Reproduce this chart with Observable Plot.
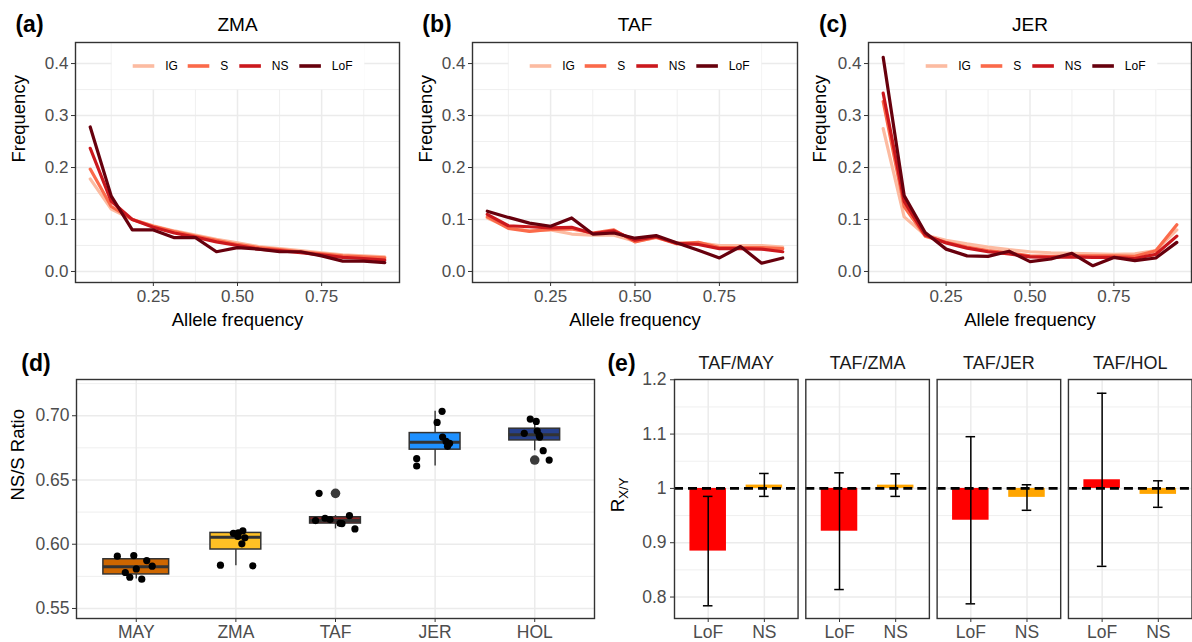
<!DOCTYPE html>
<html>
<head>
<meta charset="utf-8">
<script src="https://cdn.jsdelivr.net/npm/d3@7"></script>
<script src="https://cdn.jsdelivr.net/npm/@observablehq/plot@0.6"></script>
<style>
  html, body { margin: 0; padding: 0; background: #ffffff; }
  #root { position: relative; width: 1192px; height: 642px; overflow: hidden; background: #ffffff;
          font-family: "Liberation Sans", Arial, Helvetica, sans-serif; }
  .pane { position: absolute; }
</style>
</head>
<body>
<div id="root"></div>
<script>
// ---------------- DATA ----------------
// (a)-(c): site frequency spectra
const afBins = [0.0625, 0.125, 0.1875, 0.25, 0.3125, 0.375, 0.4375, 0.5, 0.5625, 0.625, 0.6875, 0.75, 0.8125, 0.875, 0.9375];
const sfsTypes = ["IG", "S", "NS", "LoF"];
const sfsColors = ["#FCBBA1", "#FB6A4A", "#CB181D", "#67000D"];

const zmaIG  = [0.178, 0.120, 0.100, 0.088, 0.078, 0.070, 0.062, 0.055, 0.048, 0.044, 0.040, 0.036, 0.032, 0.030, 0.028];
const zmaS   = [0.197, 0.125, 0.100, 0.087, 0.077, 0.068, 0.060, 0.052, 0.046, 0.042, 0.038, 0.034, 0.030, 0.028, 0.026];
const zmaNS  = [0.237, 0.135, 0.100, 0.085, 0.074, 0.066, 0.057, 0.050, 0.043, 0.040, 0.036, 0.032, 0.027, 0.025, 0.022];
const zmaLoF = [0.278, 0.145, 0.080, 0.080, 0.065, 0.065, 0.038, 0.046, 0.043, 0.038, 0.038, 0.030, 0.020, 0.020, 0.017];

const tafIG  = [0.103, 0.085, 0.078, 0.080, 0.072, 0.070, 0.070, 0.058, 0.065, 0.055, 0.055, 0.050, 0.050, 0.050, 0.047];
const tafS   = [0.105, 0.083, 0.077, 0.081, 0.082, 0.074, 0.080, 0.057, 0.066, 0.053, 0.056, 0.046, 0.046, 0.046, 0.044];
const tafNS  = [0.110, 0.088, 0.086, 0.084, 0.085, 0.073, 0.078, 0.060, 0.067, 0.054, 0.052, 0.044, 0.044, 0.043, 0.038];
const tafLoF = [0.116, 0.104, 0.093, 0.087, 0.103, 0.072, 0.074, 0.064, 0.069, 0.055, 0.041, 0.026, 0.048, 0.016, 0.026];

const jerIG  = [0.275, 0.105, 0.070, 0.060, 0.053, 0.047, 0.042, 0.038, 0.036, 0.035, 0.034, 0.033, 0.034, 0.040, 0.080];
const jerS   = [0.327, 0.125, 0.068, 0.056, 0.047, 0.040, 0.036, 0.030, 0.029, 0.030, 0.030, 0.030, 0.029, 0.040, 0.090];
const jerNS  = [0.343, 0.135, 0.070, 0.055, 0.045, 0.038, 0.034, 0.028, 0.027, 0.028, 0.027, 0.027, 0.025, 0.033, 0.068];
const jerLoF = [0.412, 0.146, 0.075, 0.043, 0.030, 0.029, 0.039, 0.019, 0.024, 0.035, 0.011, 0.027, 0.021, 0.026, 0.056];

const afMajor = [0.25, 0.5, 0.75];
const afMinor = [0.125, 0.375, 0.625, 0.875];
const freqMajor = [0, 0.1, 0.2, 0.3, 0.4];
const freqMinor = [0.05, 0.15, 0.25, 0.35];

// (d): NS/S ratio per population
const pops = ["MAY", "ZMA", "TAF", "JER", "HOL"];
const popColors = ["#CD6600", "#FFC125", "#8B2323", "#1E90FF", "#27408B"];
const boxLow    = [0.5729, 0.5832, 0.6119, 0.6609, 0.6728];
const boxQ1     = [0.5765, 0.5959, 0.6161, 0.6736, 0.6808];
const boxMedian = [0.5824, 0.6054, 0.6184, 0.6793, 0.6852];
const boxQ3     = [0.5883, 0.6088, 0.6210, 0.6865, 0.6899];
const boxHigh   = [0.5912, 0.6104, 0.6223, 0.7034, 0.6974];
const outlierPop = ["TAF", "HOL"];
const outlierVal = [0.6396, 0.6655];
const ratioMAY = [0.5907, 0.5912, 0.5873, 0.5829, 0.5780, 0.5808, 0.5743, 0.5728];
const ratioZMA = [0.6085, 0.6088, 0.6104, 0.6060, 0.6050, 0.6003, 0.5837, 0.5832];
const ratioTAF = [0.6396, 0.6184, 0.6202, 0.6192, 0.6163, 0.6161, 0.6223, 0.6119];
const ratioJER = [0.7034, 0.6948, 0.6834, 0.6800, 0.6785, 0.6762, 0.6666, 0.6609];
const ratioHOL = [0.6974, 0.6956, 0.6863, 0.6881, 0.6847, 0.6834, 0.6728, 0.6655];
// horizontal jitter (in category units)
const jitMAY = [-0.19, -0.025, 0.105, 0.16, -0.11, 0.0, -0.065, 0.055];
const jitZMA = [-0.025, 0.025, 0.07, 0.02, 0.09, 0.06, -0.155, 0.17];
const jitTAF = [-0.165, -0.2, -0.105, -0.055, 0.045, 0.065, 0.14, 0.195];
const jitJER = [0.07, 0.02, 0.075, 0.11, 0.145, 0.125, -0.185, -0.185];
const jitHOL = [-0.045, 0.015, -0.105, 0.025, 0.045, 0.05, 0.085, 0.145];
const ratioTicks = [0.55, 0.60, 0.65, 0.70];
const ratioMinor = [0.575, 0.625, 0.675, 0.725];

// (e): R X/Y
const pairs = ["TAF/MAY", "TAF/ZMA", "TAF/JER", "TAF/HOL"];
const classes = ["LoF", "NS"];
const classColors = ["#FF0000", "#FFA500"];
const lofR    = [0.8846, 0.9212, 0.9414, 1.0159];
const lofLow  = [0.7839, 0.8138, 0.7875, 0.8565];
const lofHigh = [0.9853, 1.0287, 1.0952, 1.1752];
const nsR     = [1.0061, 1.0060, 0.9835, 0.9890];
const nsLow   = [0.9853, 0.9853, 0.9597, 0.9652];
const nsHigh  = [1.0275, 1.0269, 1.0067, 1.0140];
const rTicks = [0.8, 0.9, 1.0, 1.1, 1.2];
const rMinor = [0.85, 0.95, 1.05, 1.15];

// ---------------- STYLE / HELPERS ----------------
const root = document.getElementById("root");
const FONT = '"Liberation Sans", Arial, Helvetica, sans-serif';
const GRID = "#EBEBEB";
const BORDER = "#333333";
const TICKTXT = "#4D4D4D";
const svgStyle = {fontFamily: FONT, fontSize: "17px", background: "transparent", overflow: "visible", color: "#000"};

function place(node, left, top) {
  const d = document.createElement("div");
  d.className = "pane";
  d.style.left = left + "px";
  d.style.top = top + "px";
  d.appendChild(node);
  root.appendChild(d);
}

// ---------------- (a)-(c) ----------------
function sfsPanel(cfg) {
  const {title, letter, series, left, width, mL, yLabDx, letterDx} = cfg;
  const mT = 42, mB = 48, H = 330;
  const rows = [];
  sfsTypes.forEach((t, ti) => series[ti].forEach((v, k) => rows.push({af: afBins[k], freq: v, type: t})));
  const keyX = [57.7, 112.7, 164.3, 224.3];
  const legend = () => {
    const g = d3.create("svg:g");
    g.append("rect").attr("x", mL + 36.7).attr("y", mT + 0.7).attr("width", 252.6).attr("height", 46.6).attr("fill", "#ffffff");
    const cy = mT + 24;
    sfsTypes.forEach((t, i) => {
      const kx = mL + keyX[i];
      g.append("line").attr("x1", kx).attr("x2", kx + 21.6).attr("y1", cy).attr("y2", cy)
        .attr("stroke", sfsColors[i]).attr("stroke-width", 3.6);
      g.append("text").attr("x", kx + 32.5).attr("y", cy).attr("dy", "0.36em")
        .attr("text-anchor", "start")
        .attr("font-size", 12).attr("font-family", FONT).attr("fill", "#000").text(t);
    });
    return g.node();
  };
  const svg = Plot.plot({
    width, height: H,
    marginLeft: mL, marginRight: 1, marginTop: mT, marginBottom: mB,
    style: svgStyle,
    x: {domain: [0.01875, 0.98125]},
    y: {domain: [-0.0212, 0.4405]},
    color: {domain: sfsTypes, range: sfsColors},
    marks: [
      Plot.ruleX(afMinor, {stroke: GRID, strokeWidth: 0.8}),
      Plot.ruleY(freqMinor, {stroke: GRID, strokeWidth: 0.8}),
      Plot.ruleX(afMajor, {stroke: GRID, strokeWidth: 1.5}),
      Plot.ruleY(freqMajor, {stroke: GRID, strokeWidth: 1.5}),
      Plot.line(rows, {x: "af", y: "freq", z: "type", stroke: "type", strokeWidth: 3.2}),
      legend,
      Plot.frame({stroke: BORDER, strokeWidth: 1.4}),
      Plot.axisX({ticks: afMajor, tickFormat: d => d.toFixed(2), tickSize: 4, tickPadding: 3,
                  fontSize: 17, stroke: BORDER, fill: TICKTXT, label: null}),
      Plot.axisY({ticks: freqMajor, tickFormat: d => d.toFixed(1), tickSize: 4, tickPadding: 3,
                  fontSize: 17, stroke: BORDER, fill: TICKTXT, label: null}),
      Plot.text([title], {frameAnchor: "top", lineAnchor: "middle", dy: -18, fontSize: 19, fill: "#000"}),
      Plot.text(["Allele frequency"], {frameAnchor: "bottom", lineAnchor: "middle", dy: 38, fontSize: 18.5, fill: "#000"}),
      Plot.text(["Frequency"], {frameAnchor: "left", lineAnchor: "middle", dx: yLabDx, rotate: -90, fontSize: 18.5, fill: "#000"}),
      Plot.text([letter], {frameAnchor: "top-left", lineAnchor: "middle", dx: letterDx, dy: -18, fontSize: 23, fontWeight: "bold", textAnchor: "middle", fill: "#000"})
    ]
  });
  place(svg, left, 0);
}

sfsPanel({title: "ZMA", letter: "(a)", series: [zmaIG, zmaS, zmaNS, zmaLoF], left: 0,   width: 400, mL: 75, yLabDx: -56.5, letterDx: -46});
sfsPanel({title: "TAF", letter: "(b)", series: [tafIG, tafS, tafNS, tafLoF], left: 400, width: 398, mL: 72, yLabDx: -46.3, letterDx: -35.5});
sfsPanel({title: "JER", letter: "(c)", series: [jerIG, jerS, jerNS, jerLoF], left: 798, width: 394, mL: 70, yLabDx: -48, letterDx: -35.5});

// ---------------- (d) ----------------
{
  const boxWidth = [0.66, 0.51, 0.51, 0.51, 0.51];
  const stats = pops.map((p, i) => ({pop: p, i: i + 1, lo: boxLow[i], q1: boxQ1[i], med: boxMedian[i],
                                     q3: boxQ3[i], hi: boxHigh[i], color: popColors[i], w: boxWidth[i]}));
  const ratioSets = [ratioMAY, ratioZMA, ratioTAF, ratioJER, ratioHOL];
  const jitSets = [jitMAY, jitZMA, jitTAF, jitJER, jitHOL];
  const pts = [];
  ratioSets.forEach((vals, i) => vals.forEach((v, k) => pts.push({i: i + 1, v, jit: jitSets[i][k]})));
  const outs = outlierPop.map((p, k) => ({i: pops.indexOf(p) + 1, v: outlierVal[k]}));
  const svg = Plot.plot({
    width: 596, height: 302,
    marginLeft: 76, marginRight: 2, marginTop: 39, marginBottom: 24,
    style: svgStyle,
    x: {domain: [0.4, 5.6]},
    y: {domain: [0.5422, 0.7282]},
    color: {type: "identity"},
    marks: [
      Plot.ruleY(ratioMinor, {stroke: GRID, strokeWidth: 0.8}),
      Plot.ruleY(ratioTicks, {stroke: GRID, strokeWidth: 1.5}),
      Plot.ruleX([1, 2, 3, 4, 5], {stroke: GRID, strokeWidth: 1.5}),
      Plot.ruleX(stats, {x: "i", y1: "lo", y2: "hi", stroke: BORDER, strokeWidth: 1.4}),
      Plot.rect(stats, {x1: d => d.i - d.w / 2, x2: d => d.i + d.w / 2, y1: "q1", y2: "q3",
                        fill: "color", stroke: BORDER, strokeWidth: 1.5}),
      Plot.ruleY(stats, {x1: d => d.i - d.w / 2, x2: d => d.i + d.w / 2, y: "med", stroke: BORDER, strokeWidth: 3}),
      Plot.dot(outs, {x: "i", y: "v", r: 4.8, fill: "#3a3a3a", stroke: null}),
      Plot.dot(pts, {x: d => d.i + d.jit, y: "v", r: 3.6, fill: "#000", stroke: null}),
      Plot.frame({stroke: BORDER, strokeWidth: 1.4}),
      Plot.axisX({ticks: [1, 2, 3, 4, 5], tickFormat: i => pops[i - 1], tickSize: 4, tickPadding: 3,
                  fontSize: 17.5, stroke: BORDER, fill: TICKTXT, label: null}),
      Plot.axisY({ticks: ratioTicks, tickFormat: d => d.toFixed(2), tickSize: 4, tickPadding: 3,
                  fontSize: 17.5, stroke: BORDER, fill: TICKTXT, label: null}),
      Plot.text(["NS/S Ratio"], {frameAnchor: "left", lineAnchor: "middle", dx: -58.5, dy: 1.5, rotate: -90, fontSize: 18.5, fill: "#000"}),
      Plot.text(["(d)"], {frameAnchor: "top-left", lineAnchor: "middle", dx: -40.5, dy: -16, fontSize: 23, fontWeight: "bold", textAnchor: "middle", fill: "#000"})
    ]
  });
  place(svg, 0, 340);
}

// ---------------- (e) ----------------
{
  const rows = [];
  pairs.forEach((p, k) => {
    rows.push({pair: p, cls: classes[0], i: 1, r: lofR[k], lo: lofLow[k], hi: lofHigh[k]});
    rows.push({pair: p, cls: classes[1], i: 2, r: nsR[k], lo: nsLow[k], hi: nsHigh[k]});
  });
  const svg = Plot.plot({
    width: 592, height: 302,
    marginLeft: 74, marginRight: 0.5, marginTop: 39, marginBottom: 24,
    style: svgStyle,
    fx: {domain: pairs, paddingInner: 0.059, paddingOuter: 0, axis: null, round: false},
    x: {domain: [0.4, 2.6]},
    y: {domain: [0.7605, 1.2005]},
    color: {domain: classes, range: classColors},
    marks: [
      Plot.ruleY(rMinor, {stroke: GRID, strokeWidth: 0.8}),
      Plot.ruleY(rTicks, {stroke: GRID, strokeWidth: 1.5}),
      Plot.ruleX([1, 2], {stroke: GRID, strokeWidth: 1.5}),
      Plot.rect(rows, {fx: "pair", x1: d => d.i - 0.325, x2: d => d.i + 0.325, y1: () => 1, y2: "r", fill: "cls"}),
      Plot.ruleY([1], {stroke: "#000", strokeWidth: 2.8, strokeDasharray: "9,5"}),
      Plot.ruleX(rows, {fx: "pair", x: "i", y1: "lo", y2: "hi", stroke: "#000", strokeWidth: 1.5}),
      Plot.ruleY(rows, {fx: "pair", y: "lo", x1: d => d.i - 0.085, x2: d => d.i + 0.085, stroke: "#000", strokeWidth: 1.5}),
      Plot.ruleY(rows, {fx: "pair", y: "hi", x1: d => d.i - 0.085, x2: d => d.i + 0.085, stroke: "#000", strokeWidth: 1.5}),
      Plot.frame({stroke: BORDER, strokeWidth: 1.4}),
      Plot.axisX({ticks: [1, 2], tickFormat: i => classes[i - 1], tickSize: 4, tickPadding: 3,
                  fontSize: 17.5, stroke: BORDER, fill: TICKTXT, label: null}),
      Plot.axisY({ticks: rTicks, tickFormat: d => String(+d.toFixed(1)), tickSize: 4, tickPadding: 4,
                  fontSize: 17.5, stroke: BORDER, fill: TICKTXT, label: null}),
      Plot.text(pairs, {fx: d => d, text: d => d, frameAnchor: "top", lineAnchor: "middle", dy: -16, fontSize: 18, fill: "#1A1A1A"}),
      Plot.text([pairs[0]], {fx: d => d, text: () => "(e)", frameAnchor: "top-left", lineAnchor: "middle", dx: -53, dy: -16,
                             fontSize: 23, fontWeight: "bold", textAnchor: "middle", fill: "#000"})
    ]
  });
  place(svg, 600, 340);

  // y-axis title R with subscript X/Y
  const lab = document.createElement("div");
  lab.style.position = "absolute";
  lab.style.left = (618 - 50) + "px";
  lab.style.top = (495 - 12) + "px";
  lab.style.width = "100px";
  lab.style.height = "24px";
  lab.style.lineHeight = "24px";
  lab.style.textAlign = "center";
  lab.style.fontSize = "19px";
  lab.style.color = "#000";
  lab.style.transform = "rotate(-90deg)";
  lab.style.transformOrigin = "50% 50%";
  lab.innerHTML = 'R<sub style="font-size:13px;vertical-align:-4px">X/Y</sub>';
  root.appendChild(lab);
}
</script>
</body>
</html>
